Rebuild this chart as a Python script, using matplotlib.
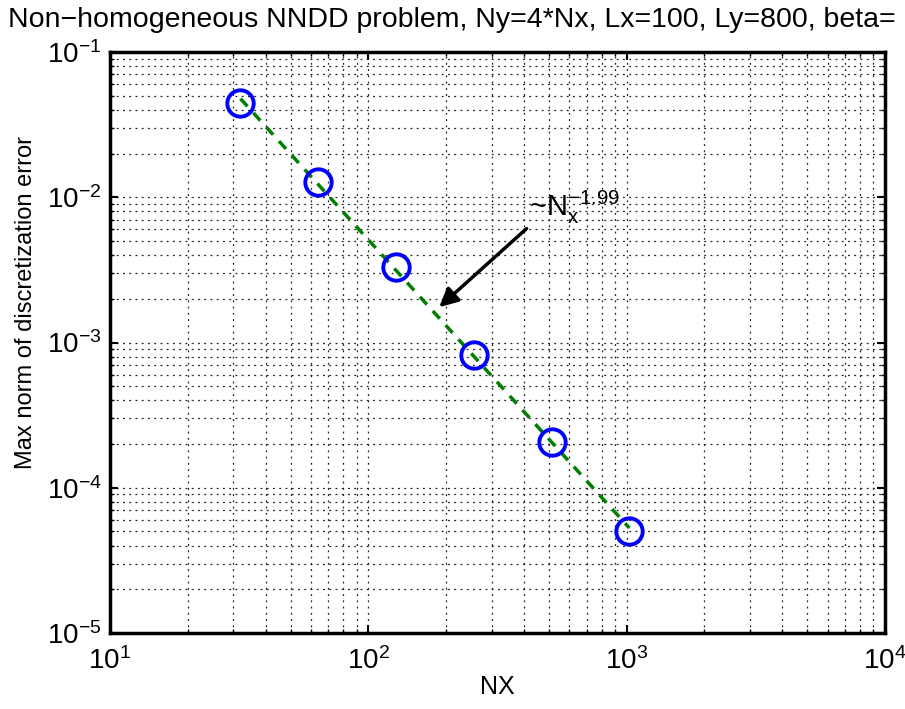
import numpy as np
import matplotlib
matplotlib.use('Agg')
import matplotlib.pyplot as plt
from matplotlib.ticker import LogLocator

plt.rcParams['font.family'] = ['Liberation Sans', 'DejaVu Sans']
plt.rcParams['mathtext.fontset'] = 'custom'
plt.rcParams['mathtext.rm'] = 'Liberation Sans'
plt.rcParams['mathtext.it'] = 'Liberation Sans'

nx = [32, 64, 128, 256, 512, 1024]
err = [0.0445, 0.0127, 0.00329, 0.000826, 0.000207, 0.0000505]
slope_label = '-1.99'

fig = plt.figure(figsize=(9.05, 7.09), dpi=100)
ax = fig.add_axes([110 / 905, 1 - 633 / 709, 775 / 905, 581 / 709])

# fitted power law
p = np.polyfit(np.log(nx), np.log(err), 1)
fit = np.exp(np.polyval(p, np.log(nx)))
ax.loglog(nx, fit, '--', color='#007f00', linewidth=2.5, dashes=(3, 2.5), zorder=3)
ax.loglog(nx, err, 'o', mfc='none', mec='#0000ff', mew=2.8, ms=19, zorder=4)

ax.set_xlim(10, 1e4)
ax.set_ylim(1e-5, 1e-1)
ax.xaxis.set_minor_locator(LogLocator(base=10, subs=np.arange(2, 10), numticks=20))
ax.yaxis.set_minor_locator(LogLocator(base=10, subs=np.arange(2, 10), numticks=20))
for which in ('major', 'minor'):
    ax.grid(True, which=which, color='#222222', linewidth=0.9, dashes=(1.5, 3.5))
ax.tick_params(which='both', direction='in', top=True, right=True, labelsize=20)
ax.tick_params(axis='x', which='major', pad=10)
ax.tick_params(axis='y', which='major', pad=6)
ax.tick_params(which='major', length=6, width=1.5)
ax.tick_params(which='minor', length=3, width=1)
for s in ax.spines.values():
    s.set_linewidth(2.5)

ax.set_xlabel('NX', fontsize=18, labelpad=0)
ax.set_ylabel('Max norm of discretization error', fontsize=17)
ax.yaxis.set_label_coords(-0.094, 0.568)

fig.text(8 / 905, 1 - 20 / 709, 'Non\u2212homogeneous NNDD problem, Ny=4*Nx, Lx=100, Ly=800, beta=',
         fontsize=20.5, ha='left', va='center')

ax.annotate('~N' + r'$\mathregular{_x^{' + slope_label.replace('-', '\u2212') + '}}$',
            xy=(188, 1.75e-3), xytext=(420, 8.5e-3), fontsize=21,
            arrowprops=dict(arrowstyle='-|>', color='black', lw=2.5, mutation_scale=28,
                            shrinkA=0, shrinkB=0, relpos=(0.0, 0.0)),
            ha='left', va='center')

fig.savefig('out.png', dpi=100)
